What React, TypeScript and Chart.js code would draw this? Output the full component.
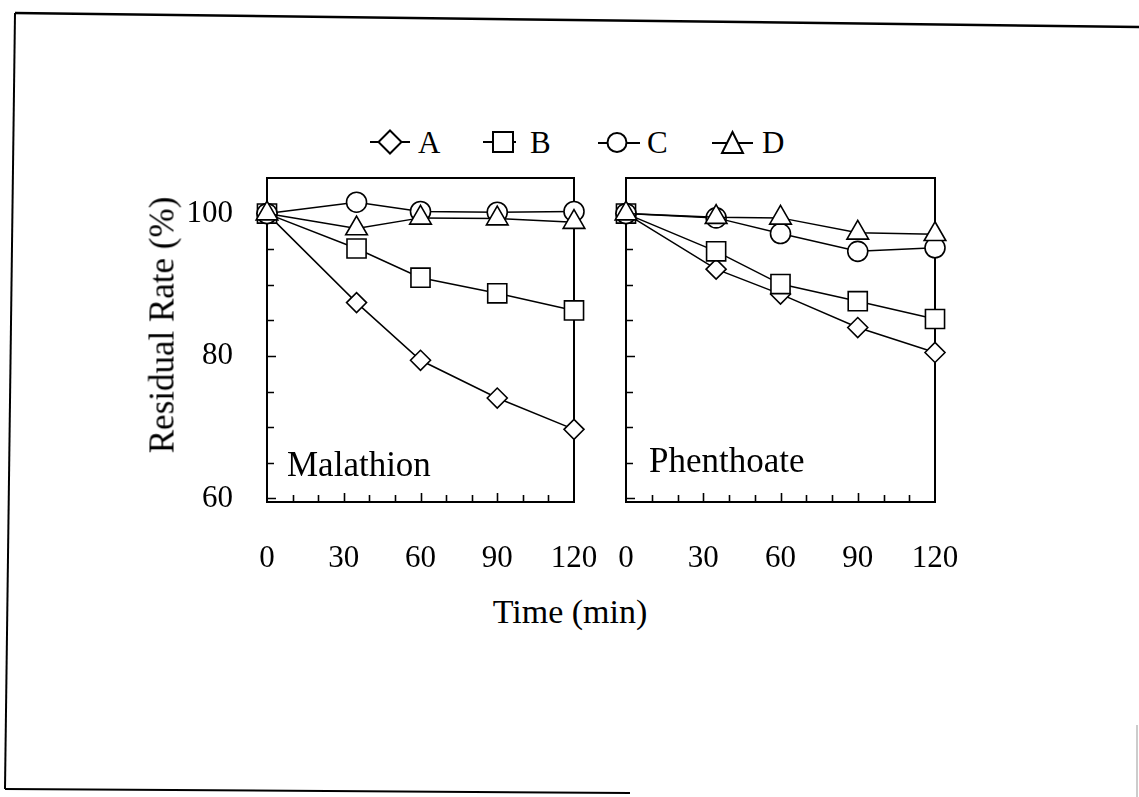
import React, { useEffect, useRef } from 'react';
import { Chart, registerables } from 'chart.js';

Chart.register(...registerables);

// ---- data ----
const TIMES = [0, 35, 60, 90, 120];
const SERIES_NAMES = ['A', 'B', 'C', 'D'];

const MALATHION_A = [100, 87.5, 79.4, 74.1, 69.7];
const MALATHION_B = [100, 95.1, 91.0, 88.8, 86.4];
const MALATHION_C = [100, 101.6, 100.3, 100.2, 100.3];
const MALATHION_D = [100, 97.9, 99.4, 99.3, 98.8];

const PHENTHOATE_A = [100, 92.2, 88.7, 84.0, 80.5];
const PHENTHOATE_B = [100, 94.7, 90.1, 87.7, 85.2];
const PHENTHOATE_C = [100, 99.4, 97.2, 94.7, 95.2];
const PHENTHOATE_D = [100, 99.5, 99.4, 97.3, 97.1];

const X_TICK_LABELS = [0, 30, 60, 90, 120];
const Y_TICK_LABELS = [60, 80, 100];

const PANEL_NAMES = ['Malathion', 'Phenthoate'];
const Y_TITLE = 'Residual Rate (%)';
const X_TITLE = 'Time (min)';

// ---- styles ----
const FONT = '"Liberation Serif", "Times New Roman", serif';
const MARKERS = [
  { style: 'rectRot', radius: 10, order: 3 },
  { style: 'rect', radius: 13.5, order: 2 },
  { style: 'circle', radius: 10, order: 1 },
  { style: 'triangle', radius: 12.5, order: 0 },
];

const frameTicksPlugin = {
  id: 'frameTicks',
  beforeDatasetsDraw(chart: any) {
    const { ctx, chartArea: a } = chart;
    const xs = chart.scales.x;
    const ys = chart.scales.y;
    ctx.save();
    ctx.strokeStyle = '#000';
    ctx.lineWidth = 2;
    ctx.strokeRect(a.left, a.top, a.right - a.left, a.bottom - a.top);
    ctx.lineWidth = 1.6;
    ctx.beginPath();
    for (const t of xs.ticks) {
      const v = t.value;
      if (v % 10 !== 0 || v <= xs.min || v >= xs.max) continue;
      const px = Math.round(xs.getPixelForValue(v)) + 0.5;
      const len = v % 30 === 0 ? 9 : 7;
      ctx.moveTo(px, a.bottom);
      ctx.lineTo(px, a.bottom - len);
    }
    for (const t of ys.ticks) {
      const v = t.value;
      if (v % 5 !== 0 || v <= ys.min || v >= ys.max) continue;
      const py = Math.round(ys.getPixelForValue(v)) + 0.5;
      const len = v % 20 === 0 ? 9 : 7;
      ctx.moveTo(a.left, py);
      ctx.lineTo(a.left + len, py);
    }
    ctx.stroke();
    ctx.restore();
  },
};

function zeroPad(s: any) {
  s.paddingLeft = 0;
  s.paddingRight = 0;
  s.paddingTop = 0;
  s.paddingBottom = 0;
}

type PanelProps = {
  left: number;
  top: number;
  width: number;
  height: number;
  yAxisWidth: number;
  padRight: number;
  showYLabels: boolean;
  values: number[][];
};

function Panel({ left, top, width, height, yAxisWidth, padRight, showYLabels, values }: PanelProps) {
  const ref = useRef<HTMLCanvasElement>(null);
  useEffect(() => {
    const chart = new Chart(ref.current as HTMLCanvasElement, {
      type: 'line',
      data: {
        datasets: SERIES_NAMES.map((name, si) => ({
          label: name,
          data: TIMES.map((t, i) => ({ x: t, y: values[si][i] })),
          borderColor: '#000',
          borderWidth: 1.5,
          backgroundColor: '#fff',
          pointStyle: MARKERS[si].style as any,
          pointRadius: MARKERS[si].radius,
          pointBackgroundColor: '#fff',
          pointBorderColor: '#000',
          pointBorderWidth: 1.6,
          order: MARKERS[si].order,
          tension: 0,
          clip: false as any,
        })),
      },
      options: {
        responsive: false,
        animation: false,
        events: [],
        layout: { autoPadding: false, padding: { top: 8, right: padRight, left: 0, bottom: 0 } },
        plugins: { legend: { display: false }, tooltip: { enabled: false } },
        scales: {
          x: {
            type: 'linear',
            min: 0,
            max: 120,
            afterFit: (s: any) => {
              s.height = 78;
              zeroPad(s);
            },
            grid: { display: false, drawTicks: false },
            border: { display: false },
            ticks: {
              stepSize: 10,
              autoSkip: false,
              maxRotation: 0,
              padding: 38,
              color: '#000',
              font: { family: FONT, size: 31 },
              callback: (v: any) => (X_TICK_LABELS.includes(Number(v)) ? String(v) : ''),
            },
          },
          y: {
            type: 'linear',
            min: 59.5,
            max: 105,
            afterFit: (s: any) => {
              s.width = yAxisWidth;
              zeroPad(s);
            },
            grid: { display: false, drawTicks: false },
            border: { display: false },
            ticks: {
              display: showYLabels,
              stepSize: 5,
              includeBounds: false,
              autoSkip: false,
              padding: 34,
              color: '#000',
              font: { family: FONT, size: 31 },
              callback: (v: any) => (Y_TICK_LABELS.includes(Number(v)) ? String(v) : ''),
            },
          },
        },
      },
      plugins: [frameTicksPlugin],
    });
    return () => chart.destroy();
  }, []);
  return (
    <canvas
      ref={ref}
      width={width}
      height={height}
      style={{ position: 'absolute', left, top, width, height }}
    />
  );
}

const textBase: React.CSSProperties = {
  position: 'absolute',
  fontFamily: FONT,
  color: '#000',
  whiteSpace: 'nowrap',
};

export default function App() {
  return (
    <div
      style={{
        position: 'absolute',
        left: 0,
        top: 0,
        width: 1139,
        height: 797,
        background: '#fff',
        overflow: 'hidden',
      }}
    >
      <svg
        width={1139}
        height={797}
        style={{ position: 'absolute', left: 0, top: 0 }}
      >
        {/* scanned page frame */}
        <line x1={15} y1={13} x2={1139} y2={27} stroke="#000" strokeWidth={2.5} />
        <line x1={15} y1={13} x2={5} y2={789} stroke="#000" strokeWidth={2} />
        <line x1={5} y1={789} x2={630} y2={793} stroke="#000" strokeWidth={2} />
        <line x1={1137} y1={725} x2={1137} y2={797} stroke="#999" strokeWidth={1} />
        {/* legend markers */}
        <g stroke="#000" strokeWidth={2} fill="#fff">
          <line x1={370} y1={142} x2={410} y2={142} />
          <polygon points="390,130.5 401.5,142 390,153.5 378.5,142" />
          <line x1={483} y1={142} x2={516} y2={142} />
          <rect x={493} y={132} width={20} height={20} />
          <line x1={598} y1={143} x2={640} y2={143} />
          <circle cx={617} cy={142.5} r={9.5} />
          <line x1={712} y1={143} x2={753} y2={143} />
          <polygon points="732.5,132 743,153 722,153" />
        </g>
      </svg>
      {SERIES_NAMES.map((n, i) => (
        <div
          key={n}
          style={{
            ...textBase,
            left: [418, 530, 647, 762][i],
            top: 127,
            fontSize: 31,
            lineHeight: '31px',
          }}
        >
          {n}
        </div>
      ))}

      <Panel
        left={180}
        top={170}
        width={420}
        height={410}
        yAxisWidth={87}
        padRight={26}
        showYLabels={true}
        values={[MALATHION_A, MALATHION_B, MALATHION_C, MALATHION_D]}
      />
      <Panel
        left={600}
        top={170}
        width={360}
        height={410}
        yAxisWidth={26}
        padRight={25}
        showYLabels={false}
        values={[PHENTHOATE_A, PHENTHOATE_B, PHENTHOATE_C, PHENTHOATE_D]}
      />

      <div
        style={{
          ...textBase,
          left: 287,
          top: 447,
          fontSize: 35,
          lineHeight: '35px',
        }}
      >
        {PANEL_NAMES[0]}
      </div>
      <div
        style={{
          ...textBase,
          left: 649,
          top: 443,
          fontSize: 35,
          lineHeight: '35px',
        }}
      >
        {PANEL_NAMES[1]}
      </div>

      <div
        style={{
          ...textBase,
          left: 162,
          top: 325,
          fontSize: 35,
          lineHeight: '35px',
          transform: 'translate(-50%, -50%) rotate(-90deg)',
        }}
      >
        {Y_TITLE}
      </div>
      <div
        style={{
          ...textBase,
          left: 570,
          top: 612,
          fontSize: 34,
          lineHeight: '34px',
          transform: 'translate(-50%, -50%)',
        }}
      >
        {X_TITLE}
      </div>
    </div>
  );
}
